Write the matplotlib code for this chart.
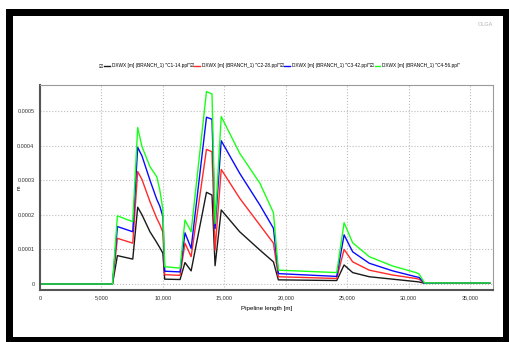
import numpy as np
import matplotlib
matplotlib.use("Agg")
import matplotlib.pyplot as plt
from matplotlib.patches import Rectangle
from matplotlib.ticker import FuncFormatter

plt.rcParams['font.family'] = ['Liberation Sans Narrow', 'Liberation Sans', 'DejaVu Sans']

# pipeline length [m]
lengte = [0, 5900, 6300, 7550, 7950, 8300, 8950, 9500, 9750, 10000, 10150,
          11400, 11800, 12300, 13550, 14000, 14250, 14750, 16250, 17900,
          19000, 19400, 24150, 24750, 25450, 26800, 28700, 30600, 30850,
          31300, 33500, 36600]

# DXWX waardes in 1e-4 m
c1_14 = [0, 0, 0.82, 0.72, 2.22, 2.00, 1.51, 1.20, 1.05, 0.89, 0.14,
         0.13, 0.62, 0.38, 2.65, 2.57, 0.53, 2.14, 1.51, 0.98,
         0.64, 0.12, 0.10, 0.55, 0.33, 0.21, 0.14, 0.07, 0.06,
         0.02, 0.02, 0.02]
c2_28 = [0, 0, 1.32, 1.18, 3.25, 3.02, 2.38, 1.90, 1.72, 1.50, 0.27,
         0.25, 1.18, 0.79, 3.89, 3.82, 0.98, 3.31, 2.48, 1.70,
         1.18, 0.21, 0.16, 1.00, 0.64, 0.40, 0.26, 0.16, 0.14,
         0.02, 0.02, 0.02]
c3_42 = [0, 0, 1.66, 1.51, 3.95, 3.70, 3.00, 2.45, 2.25, 1.95, 0.37,
         0.35, 1.48, 1.03, 4.82, 4.76, 1.60, 4.14, 3.20, 2.28,
         1.61, 0.30, 0.22, 1.42, 0.93, 0.60, 0.38, 0.21, 0.19,
         0.02, 0.03, 0.03]
c4_56 = [0, 0, 1.97, 1.80, 4.52, 3.97, 3.39, 3.10, 2.72, 2.15, 0.50,
         0.46, 1.85, 1.51, 5.56, 5.49, 1.75, 4.84, 3.78, 2.91,
         2.06, 0.40, 0.33, 1.77, 1.19, 0.79, 0.52, 0.33, 0.29,
         0.03, 0.03, 0.03]

namen = ['DXWX [m] (BRANCH_1) "C1-14.ppl"', 'DXWX [m] (BRANCH_1) "C2-28.ppl"',
         'DXWX [m] (BRANCH_1) "C3-42.ppl"', 'DXWX [m] (BRANCH_1) "C4-56.ppl"']
kleuren = ['#1a1a1a', '#ff2a2a', '#0a0aff', '#1aff1a']

fig = plt.figure(figsize=(5.10, 3.42), dpi=100)

# zwarte kader rond de figuur
fig.patches.append(Rectangle((6/510, 0), 1 - 6/510, (342-9)/342, transform=fig.transFigure,
                             facecolor='black', edgecolor='none', zorder=-2))
fig.patches.append(Rectangle((13/510, 5/342), (503-13)/510, (337-16)/342, transform=fig.transFigure,
                             facecolor='white', edgecolor='none', zorder=-1))

ax = fig.add_axes([40/510, 52/342, 453/510, 205/342])

x = np.array(lengte)
lijnen = []
for reeks, kleur, naam in zip([c1_14, c2_28, c3_42, c4_56], kleuren, namen):
    l, = ax.plot(x, np.array(reeks) * 1e-4, color=kleur, lw=1.0, label=naam)
    lijnen.append(l)

ax.set_xlim(0, 36870)
ax.set_ylim(-0.0000173, 0.000575)
ax.set_xticks(np.arange(0, 35001, 5000))
ax.set_yticks(np.arange(0, 0.00051, 0.0001))
ax.xaxis.set_major_formatter(FuncFormatter(lambda v, p: f"{v:,.0f}"))
ax.yaxis.set_major_formatter(FuncFormatter(lambda v, p: "0" if abs(v) < 1e-9 else f"{v:.4f}"))
ax.tick_params(labelsize=4, length=0, pad=4, colors='#333333')
ax.grid(True, linestyle=':', color='#bdbdbd', lw=0.8)
for s in ax.spines.values():
    s.set_color('#9a9a9a')
    s.set_linewidth(0.8)
ax.spines['left'].set_color('#555555')
ax.spines['bottom'].set_color('#555555')
ax.spines['left'].set_linewidth(1.5)
ax.spines['bottom'].set_linewidth(1.5)

ax.set_xlabel("Pipeline length [m]", fontsize=4.5, labelpad=4)
fig.text(19/510, 1 - 188/342, "m", rotation=90, fontsize=4, ha='center', va='center')
fig.text(485/510, 1 - 25/342, "OLGA", fontsize=4, color='#b0b0b0', ha='center', va='center')

labels = [n + "\u2611" for n in namen[:-1]] + [namen[-1]]
leg = fig.legend(lijnen, labels, loc='center', bbox_to_anchor=(282/510, 1 - 66/342), ncol=4,
                 frameon=False, fontsize=3.4, handlelength=1.2, handletextpad=0.4,
                 columnspacing=0.1, borderpad=0)
fig.canvas.draw()
bb = leg.get_window_extent().transformed(fig.transFigure.inverted())
fig.text(bb.x0 - 0.002, (bb.y0 + bb.y1) / 2, "\u2611", fontsize=3.4, ha='right', va='center')

fig.savefig("out.png", dpi=100)
